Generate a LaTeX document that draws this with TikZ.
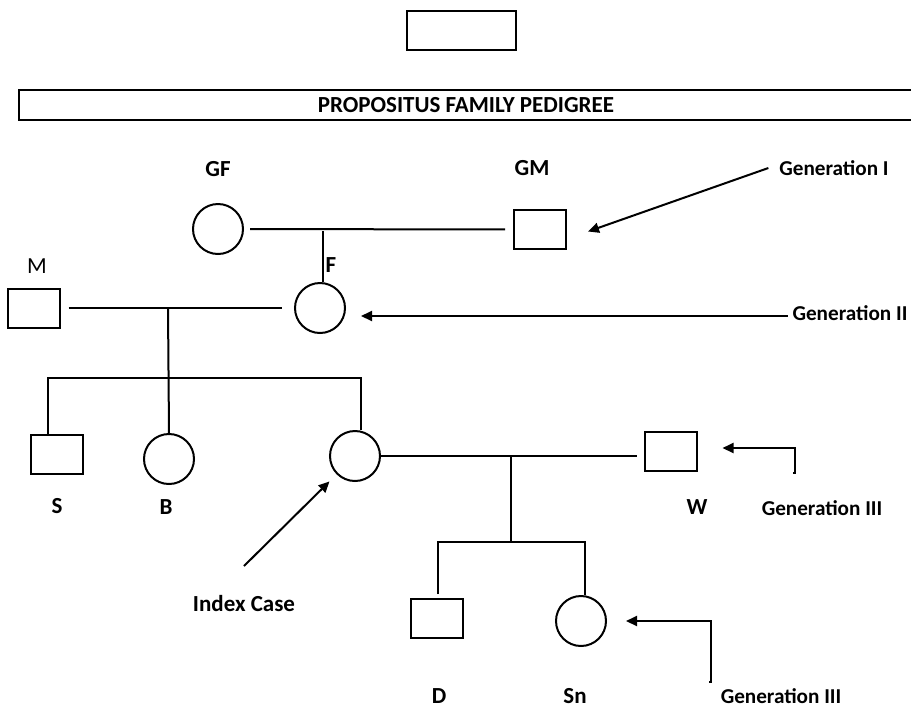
\documentclass[tikz,border=0pt]{standalone}
\usepackage{fontspec}
\setmainfont{Carlito}
\usetikzlibrary{arrows.meta}

\tikzset{
  sqbox/.style={draw, rectangle, minimum width=26pt, minimum height=19.5pt, inner sep=0pt},
  rnd/.style={draw, circle, minimum size=25pt, inner sep=0pt},
  lbl/.style={font=\fontsize{11.5}{13}\selectfont\bfseries, inner sep=2pt},
  genlbl/.style={lbl, font=\fontsize{10.6}{12}\selectfont\bfseries},
  arr/.style={-{Triangle[length=5.5pt,width=5pt]}}
}

\begin{document}
\begin{tikzpicture}[x=0.5pt, y=-0.5pt, line width=1pt, node distance=30pt, font=\fontsize{11.5}{13}\selectfont]
    \useasboundingbox (0,0) rectangle (911,708);

    \node (top) [draw, rectangle, minimum width=54.5pt, minimum height=19.5pt] at (461.5,30.5) {};
    \node (title) [lbl] at (466,105) {PROPOSITUS FAMILY PEDIGREE};
    \draw (915,90) -- (19,90) -- (19,120) -- (915,120);

    % generation I
    \node (gf) [rnd] at (218,229) {};
    \node (gm) [sqbox] at (540,229.5) {};
    \node [lbl, above of=gf] {GF};
    \node [lbl] at (532,168) {GM};
    \coordinate (gpm) at (323,231);
    \draw[shorten <=3pt, shorten >=4pt] (gf) -- (gm);

    % generation II
    \node (m) [sqbox] at (33.5,308) {};
    \node (f) [rnd] at (320,308) {};
    \node [inner sep=2pt] at (37,266) {M};
    \node [lbl] at (331,265) {F};
    \draw (gpm) -- (gpm |- f.north);
    \coordinate (pm) at (168,308);
    \draw[shorten <=4pt, shorten >=6pt] (m) -- (f);

    % generation III
    \node (s) [sqbox] at (57,454.5) {};
    \node (b) [rnd] at (169,459) {};
    \node (idx) [rnd] at (355,456) {};
    \node (w) [sqbox] at (670.5,451) {};
    \node [lbl, below of=s, node distance=26pt] {S};
    \node [lbl] at (166,507) {B};
    \node [lbl] at (697,507) {W};
    \coordinate (sibl) at (48,378);
    \coordinate (sibr) at (361,378);
    \draw (pm) -- (b.north);
    \draw (s.north -| sibl) -- (sibl) -- (sibr) -- (sibr |- idx.north);
    \draw[shorten >=3.5pt] (idx.east) -- (idx.east -| w.west);

    % children of index case
    \node (d) [sqbox] at (436.5,618.5) {};
    \node (sn) [rnd] at (581,621) {};
    \node [lbl] at (439,696) {D};
    \node [lbl] at (575,696) {Sn};
    \coordinate (cm) at (511,456);
    \coordinate (sib2l) at (438,542);
    \coordinate (sib2r) at (585,542);
    \draw (cm) -- (cm |- sib2l);
    \draw ([yshift=2pt]d.north -| sib2l) -- (sib2l) -- (sib2r) -- (sib2r |- sn.north);

    % generation markers
    \node (g1) [genlbl] at (834,168) {Generation I};
    \node (g2) [genlbl] at (850,313) {Generation II};
    \node (g3a) [genlbl] at (822,508) {Generation III};
    \node (g3b) [genlbl] at (781,696) {Generation III};
    \node (idxlbl) [lbl] at (244,604) {Index Case};
    \coordinate (g3afoot) at (793,473);
    \coordinate (g3bfoot) at (709,682);
    \coordinate (idxfoot) at (244,566);

    \draw[arr] ([xshift=-3pt]g1.west) -- ([xshift=10.5pt,yshift=-1pt]gm.east);
    \draw[arr, shorten >=7.5pt] ([yshift=-1.5pt]g2.west) -- ([yshift=-1.5pt]g2.west -| f.east);
    \draw[arr] (g3afoot) -- ++(2,0) |- ([xshift=12.5pt,yshift=1.5pt]w.east);
    \draw[arr] (g3bfoot) -- ++(2,0) |- ([xshift=9.5pt]sn.east);
    \draw[arr, shorten >=5pt] (idxfoot) -- (idx.south west);
\end{tikzpicture}
\end{document}
